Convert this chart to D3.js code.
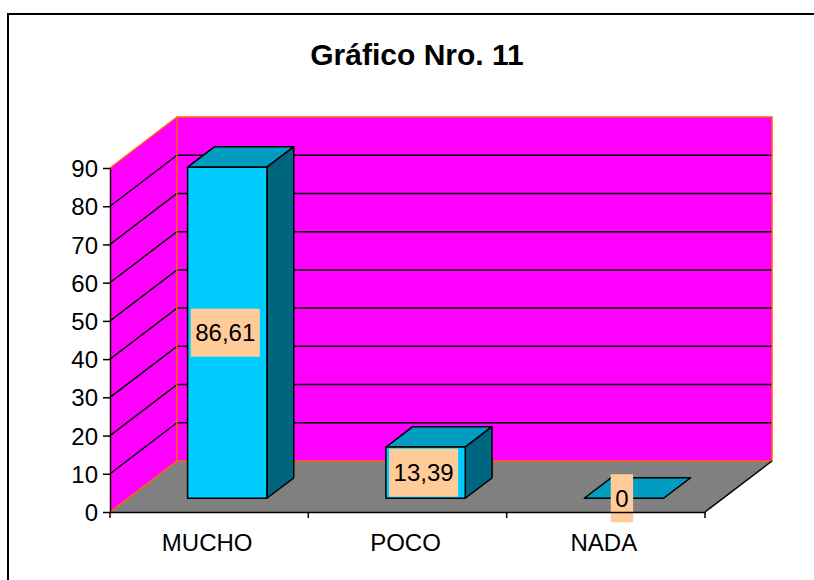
<!DOCTYPE html>
<html>
<head>
<meta charset="utf-8">
<script src="https://cdn.jsdelivr.net/npm/d3@7"></script>
<style>
  html, body { margin: 0; padding: 0; background: #fff; }
  svg { display: block; font-family: Arial, "Liberation Sans", sans-serif; }
</style>
</head>
<body>
<svg id="chart" width="814" height="580"></svg>
<script>
// ---- data ----
const title = "Gráfico Nro. 11";
const categories = ["MUCHO", "POCO", "NADA"];
const values = [86.61, 13.39, 0];
const valueLabels = ["86,61", "13,39", "0"];
const yTicks = [0, 10, 20, 30, 40, 50, 60, 70, 80, 90];

// ---- layout ----
const svg = d3.select("#chart");
const plotLeft = 110, plotRight = 705, plotBottom = 512, plotTop = 168;
const depthX = 67, depthY = 51;           // wall depth offset
const barFront = 0.27, barBack = 0.67;    // bar depth fraction
const FS = 24;

const x = d3.scaleBand().domain(categories).range([plotLeft, plotRight])
  .paddingInner(0.6).paddingOuter(0.3);
const y = d3.scaleLinear().domain([0, 90]).range([plotBottom, plotTop]);

const magenta = "#FF00FF", orange = "#FF6600", floorC = "#808080";
const cFront = "#00CCFF", cTop = "#009CC2", cSide = "#006680";

// outer frame
svg.append("rect").attr("x", 8).attr("y", 14).attr("width", 840).attr("height", 620)
  .attr("fill", "#fff").attr("stroke", "#000").attr("stroke-width", 2);

// title
svg.append("text").attr("x", 417).attr("y", 65).attr("text-anchor", "middle")
  .attr("font-weight", "bold").attr("font-size", 30).text(title);

const P = (px, py) => px + "," + py;

// back wall
const yB = v => y(v) - depthY;
svg.append("rect").attr("x", plotLeft + depthX).attr("y", yB(90))
  .attr("width", plotRight - plotLeft).attr("height", y(0) - y(90))
  .attr("fill", magenta);

// side wall
svg.append("polygon")
  .attr("points", [P(plotLeft, y(0)), P(plotLeft, y(90)), P(plotLeft + depthX, yB(90)), P(plotLeft + depthX, yB(0))].join(" "))
  .attr("fill", magenta);

// floor
svg.append("polygon")
  .attr("points", [P(plotLeft, y(0)), P(plotRight, y(0)), P(plotRight + depthX, yB(0)), P(plotLeft + depthX, yB(0))].join(" "))
  .attr("fill", floorC);

// gridlines
const grid = svg.append("g");
yTicks.filter(v => v > 0 && v < 90).forEach(v => {
  grid.append("line").attr("x1", plotLeft).attr("y1", y(v)).attr("x2", plotLeft + depthX).attr("y2", yB(v))
    .attr("stroke", "#000").attr("stroke-width", 1.5);
  grid.append("line").attr("x1", plotLeft + depthX).attr("y1", yB(v)).attr("x2", plotRight + depthX).attr("y2", yB(v))
    .attr("stroke", "#000").attr("stroke-width", 1.5);
});

// wall edges (orange)
const edges = svg.append("g").attr("stroke", orange).attr("stroke-width", 1.5).attr("fill", "none");
edges.append("rect").attr("x", plotLeft + depthX).attr("y", yB(90))
  .attr("width", plotRight - plotLeft).attr("height", y(0) - y(90));
edges.append("line").attr("x1", plotLeft).attr("y1", y(90)).attr("x2", plotLeft + depthX).attr("y2", yB(90));
edges.append("line").attr("x1", plotLeft).attr("y1", y(0)).attr("x2", plotLeft + depthX).attr("y2", yB(0));
// floor right edge (black)
svg.append("line").attr("x1", plotRight).attr("y1", y(0)).attr("x2", plotRight + depthX).attr("y2", yB(0))
  .attr("stroke", "#000").attr("stroke-width", 1.5);

// bars
const fx = barFront * depthX, fy = barFront * depthY;
const bx = barBack * depthX, by = barBack * depthY;
const bars = svg.append("g").attr("stroke", "#000").attr("stroke-width", 1.5).attr("stroke-linejoin", "round");
categories.forEach((c, i) => {
  const v = values[i];
  const x0 = x(c) + fx, x1 = x(c) + x.bandwidth() + fx;
  const yb = y(0) - fy, yt = y(v) - fy;
  const ox = bx - fx, oy = by - fy;
  // top
  bars.append("polygon").attr("fill", cTop)
    .attr("points", [P(x0, yt), P(x1, yt), P(x1 + ox, yt - oy), P(x0 + ox, yt - oy)].join(" "));
  if (v > 0) {
    // side
    bars.append("polygon").attr("fill", cSide)
      .attr("points", [P(x1, yt), P(x1, yb), P(x1 + ox, yb - oy), P(x1 + ox, yt - oy)].join(" "));
    // front
    bars.append("rect").attr("fill", cFront)
      .attr("x", x0).attr("y", yt).attr("width", x1 - x0).attr("height", yb - yt);
  }
});

// data labels
const labels = svg.append("g");
categories.forEach((c, i) => {
  const v = values[i];
  const cx = x(c) + x.bandwidth() / 2 + fx - 2;
  const cy = (y(v) + y(0)) / 2 - fy;
  const g = labels.append("g");
  const r = g.append("rect").attr("fill", "#FFCC99");
  const t = g.append("text").attr("x", cx).attr("y", cy + FS * 0.36)
    .attr("text-anchor", "middle").attr("font-size", FS).text(valueLabels[i]);
  const w = t.node().getComputedTextLength() + 9;
  r.attr("x", cx - w / 2).attr("y", cy - 24).attr("width", w).attr("height", 48);
});

// y axis
const yAxis = svg.append("g").attr("transform", `translate(${plotLeft},0)`)
  .call(d3.axisLeft(y).tickValues(yTicks).tickSize(7).tickPadding(5).tickSizeOuter(0));
yAxis.selectAll("text").attr("font-size", FS).attr("fill", "#000")
  .attr("font-family", 'Arial, "Liberation Sans", sans-serif').attr("dy", "0.36em");
yAxis.selectAll("line").attr("stroke", "#000").attr("stroke-width", 1.5);
yAxis.select(".domain").attr("stroke", "#1a0a00").attr("stroke-width", 1.5);

// x axis
const xAxis = svg.append("g").attr("transform", `translate(0,${plotBottom})`)
  .call(d3.axisBottom(x).tickSize(0).tickPadding(22).tickSizeOuter(0));
xAxis.select(".domain").attr("stroke", "#000").attr("stroke-width", 1.5);
xAxis.selectAll("text").attr("font-size", FS).attr("fill", "#000")
  .attr("font-family", 'Arial, "Liberation Sans", sans-serif')
  .attr("dx", -2).attr("dy", "0.71em");
const bounds = d3.range(categories.length + 1).map(i => plotLeft + i * x.step());
xAxis.selectAll(".bound").data(bounds).enter().append("line")
  .attr("x1", d => d).attr("x2", d => d).attr("y1", 0).attr("y2", 6)
  .attr("stroke", "#000").attr("stroke-width", 1.5);
</script>
</body>
</html>
